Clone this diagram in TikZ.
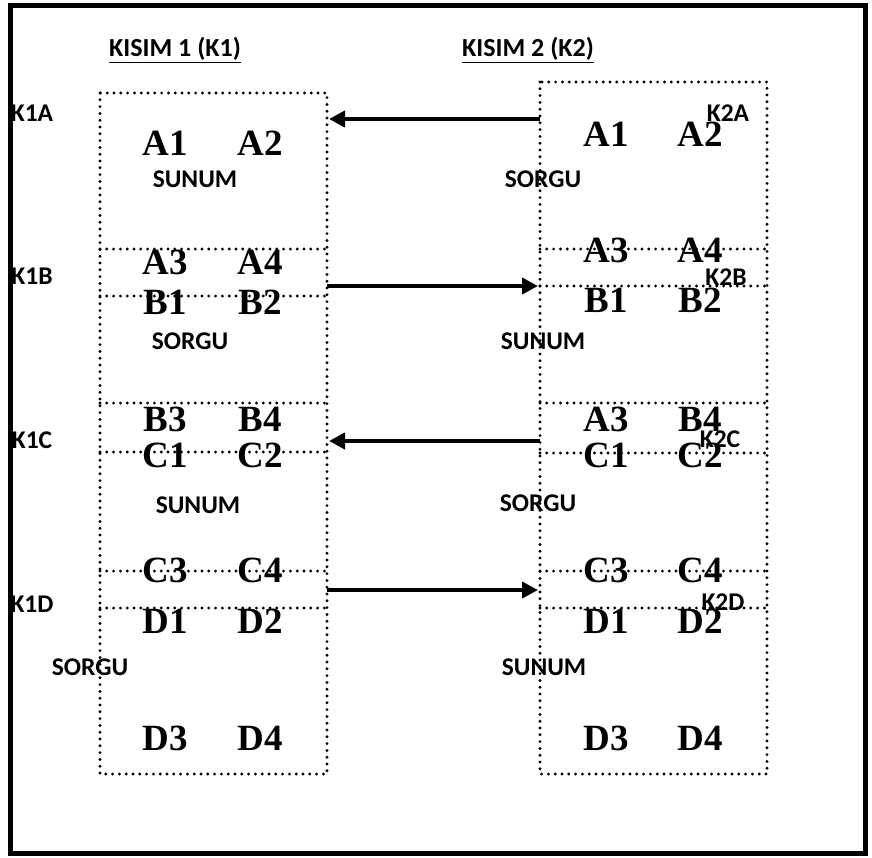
\documentclass[tikz,border=0pt]{standalone}
\usepackage{fontspec}
\setmainfont{Liberation Serif}
\newfontfamily\calib{Carlito}
\usetikzlibrary{arrows.meta}
\begin{document}
\begin{tikzpicture}[x=1pt,y=-1pt,
  cell/.style={font=\bfseries\fontsize{37}{37}\selectfont, inner sep=0pt},
  lab/.style={font=\calib\bfseries\fontsize{25.5}{25.5}\selectfont, inner sep=0pt},
  head/.style={font=\calib\bfseries\fontsize{26}{26}\selectfont, inner sep=0pt},
  dots/.style={line width=3.2pt, line cap=round, dash pattern=on 0pt off 6.8pt},
  arr/.style={line width=4pt, -{Triangle[length=16pt,width=16pt]}}]
\useasboundingbox (0,0) rectangle (872,857);
\draw[line width=5pt] (10,5) rectangle (865,853);
% headings
\node[head] (h1) at (175,50) {\underline{KISIM 1 (K1)}};
\node[head] (h2) at (528,50) {\underline{KISIM 2 (K2)}};
% left part text
\node[lab] (k1a) at (32,113) {K1A};
\node[lab] (k1b) at (32,276) {K1B};
\node[lab] (k1c) at (32,440) {K1C};
\node[lab] (k1d) at (32,604) {K1D};
\node[cell] at (165,143) {A1}; \node[cell] at (260,143) {A2};
\node[lab] at (195,179) {SUNUM};
\node[cell] at (165,262) {A3}; \node[cell] at (260,262) {A4};
\node[cell] at (165,302) {B1}; \node[cell] at (260,302) {B2};
\node[lab] at (190,341) {SORGU};
\node[cell] at (165,419) {B3}; \node[cell] at (260,419) {B4};
\node[cell] at (165,455) {C1}; \node[cell] at (260,455) {C2};
\node[lab] at (198,505) {SUNUM};
\node[cell] at (165,570) {C3}; \node[cell] at (260,570) {C4};
\node[cell] at (165,621) {D1}; \node[cell] at (260,621) {D2};
\node[lab] at (90,667) {SORGU};
\node[cell] at (165,738) {D3}; \node[cell] at (260,738) {D4};
% right part text
\node[cell] at (606,134) {A1}; \node[cell] at (700,134) {A2};
\node[lab] at (728,113) {K2A};
\node[lab] at (543,179) {SORGU};
\node[cell] at (606,250) {A3}; \node[cell] at (700,250) {A4};
\node[lab] at (726,277) {K2B};
\node[cell] at (606,300) {B1}; \node[cell] at (700,300) {B2};
\node[lab] at (543,341) {SUNUM};
\node[cell] at (606,419) {A3}; \node[cell] at (700,419) {B4};
\node[lab] at (720,439) {K2C};
\node[cell] at (606,455) {C1}; \node[cell] at (700,455) {C2};
\node[lab] at (538,503) {SORGU};
\node[cell] at (606,570) {C3}; \node[cell] at (700,570) {C4};
\node[lab] at (723,602) {K2D};
\node[cell] at (606,621) {D1}; \node[cell] at (700,621) {D2};
\node[lab] at (544,667) {SUNUM};
\node[cell] at (606,738) {D3}; \node[cell] at (700,738) {D4};
% boxes
\draw[dots] (100,93) rectangle (327,774);
\draw[dots] (540,82) rectangle (767,774);
\draw[dots] (100,249) -- (327,249);
\draw[dots] (100,296) -- (327,296);
\draw[dots] (100,403) -- (327,403);
\draw[dots] (100,452) -- (327,452);
\draw[dots] (100,571) -- (327,571);
\draw[dots] (100,608) -- (327,608);
\draw[dots] (540,249) -- (767,249);
\draw[dots] (540,286) -- (767,286);
\draw[dots] (540,403) -- (767,403);
\draw[dots] (540,453) -- (767,453);
\draw[dots] (540,571) -- (767,571);
\draw[dots] (540,608) -- (767,608);
% arrows
\coordinate (l1) at (329,119); \coordinate (r1) at (540,119);
\coordinate (l2) at (327,286); \coordinate (r2) at (538,286);
\coordinate (l3) at (329,441); \coordinate (r3) at (540,441);
\coordinate (l4) at (327,590); \coordinate (r4) at (538,590);
\draw[arr] (r1) -- (l1);
\draw[arr] (l2) -- (r2);
\draw[arr] (r3) -- (l3);
\draw[arr] (l4) -- (r4);
\end{tikzpicture}
\end{document}
